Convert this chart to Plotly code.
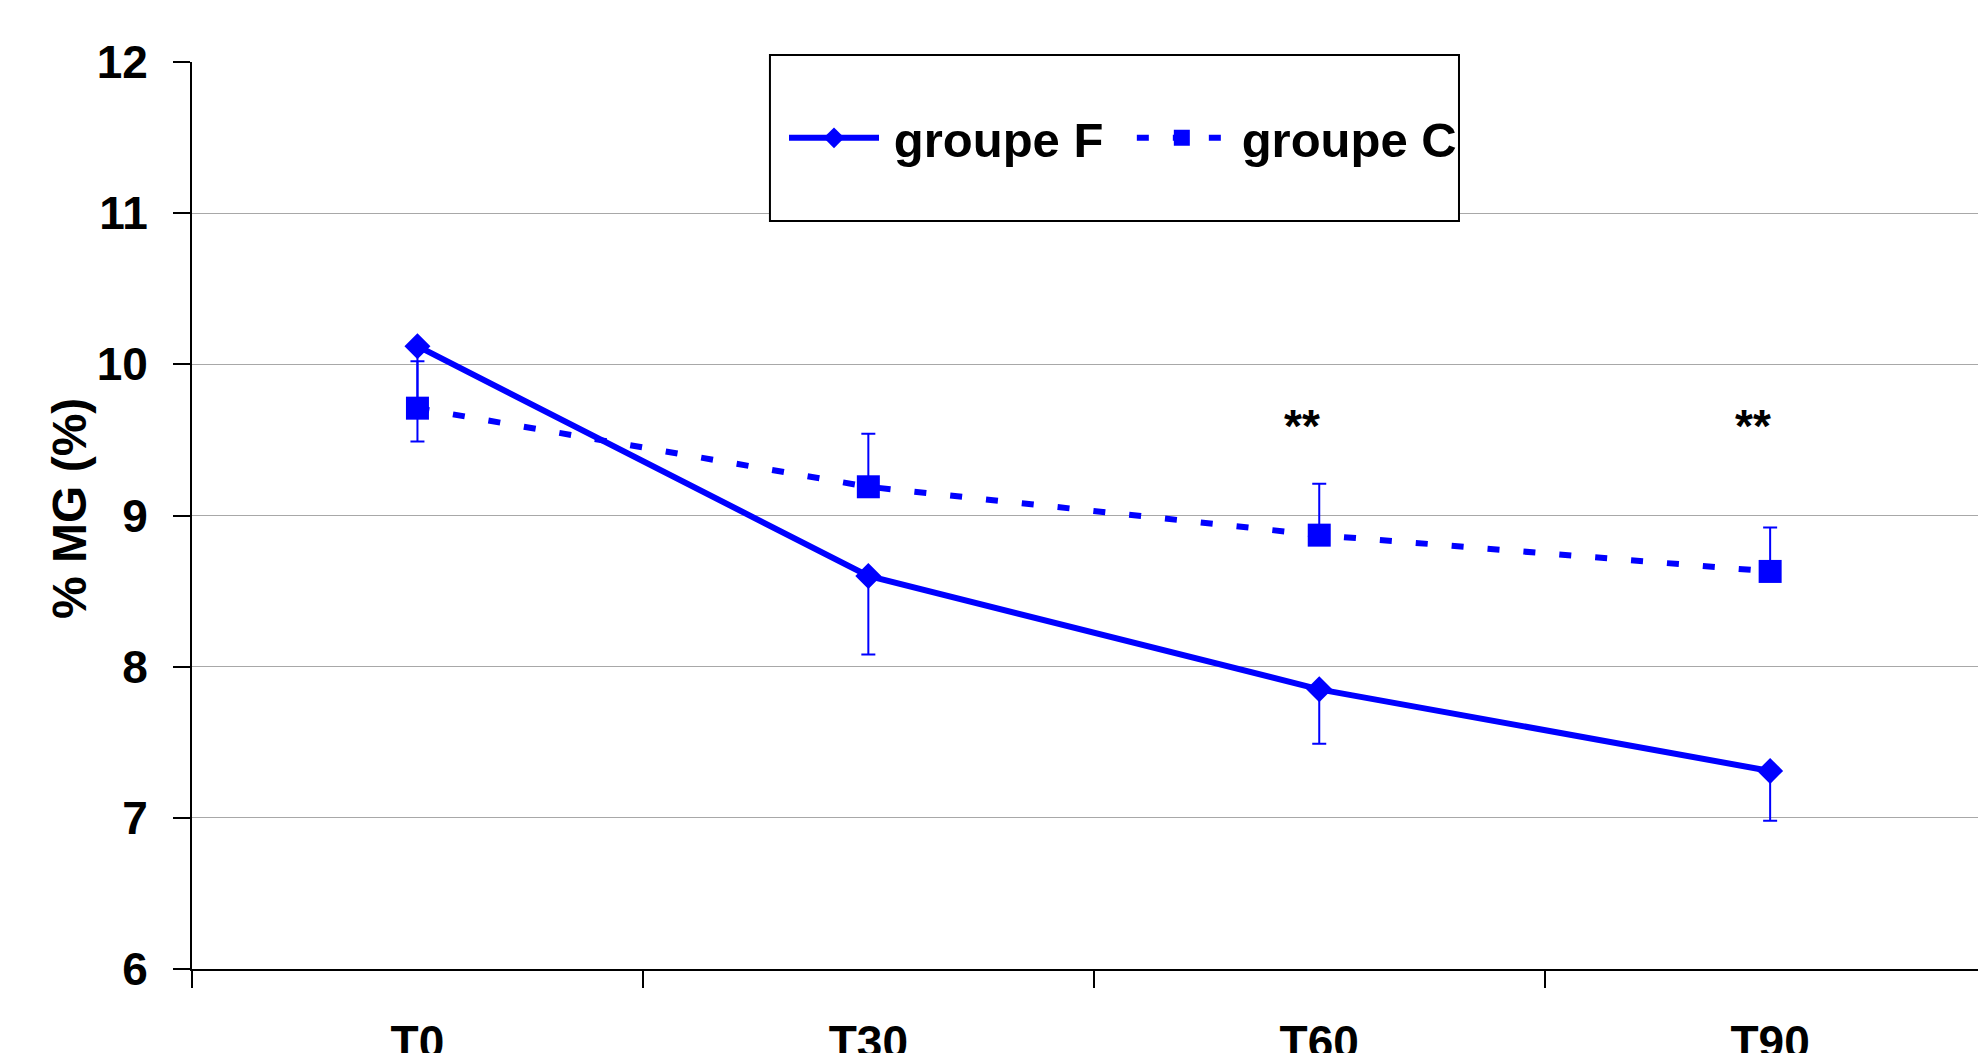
import plotly.graph_objects as go

# Time points and group means (% MG) with one-sided error bars
timepoints = ["T0", "T30", "T60", "T90"]
groupe_f = [10.12, 8.60, 7.85, 7.31]
groupe_f_err_minus = [0.63, 0.52, 0.36, 0.33]
groupe_c = [9.71, 9.19, 8.87, 8.63]
groupe_c_err_plus = [0.31, 0.35, 0.34, 0.29]
significance = ["", "", "**", "**"]

BLUE = "#0000FF"
FONT = "Liberation Sans, Arial, sans-serif"
THIN = "\u2009"
NBSP = "\u00a0"

fig = go.Figure()

fig.add_trace(go.Scatter(
    x=timepoints, y=groupe_f, name=THIN + "groupe F" + NBSP + THIN,
    mode="lines+markers",
    line=dict(color=BLUE, width=6),
    marker=dict(symbol="diamond", size=20, color=BLUE),
    error_y=dict(type="data", symmetric=False,
                 array=[0] * len(groupe_f), arrayminus=groupe_f_err_minus,
                 color=BLUE, thickness=2, width=7),
))

fig.add_trace(go.Scatter(
    x=timepoints, y=groupe_c, name=THIN + "groupe C",
    mode="lines+markers",
    line=dict(color=BLUE, width=6, dash="12px,24px"),
    marker=dict(symbol="square", size=23, color=BLUE),
    error_y=dict(type="data", symmetric=False,
                 array=groupe_c_err_plus, arrayminus=[0] * len(groupe_c),
                 color=BLUE, thickness=2, width=7),
))

# Significance stars above the control group
for t, s in zip(timepoints, significance):
    if s:
        fig.add_annotation(
            x=t, y=9.59, text=s, showarrow=False, xshift=-17,
            font=dict(family=FONT, size=46, color="black", weight="bold"),
        )

# Y axis title
fig.add_annotation(
    text="% MG (%)", textangle=-90, showarrow=False,
    xref="paper", yref="paper", x=-0.069, y=0.508,
    xanchor="center", yanchor="middle",
    font=dict(family=FONT, size=48, color="black", weight="bold"),
)

# Framed box behind the legend entries
fig.add_shape(
    type="rect", xref="paper", yref="paper",
    x0=0.3236, x1=0.7094, y0=0.8247, y1=1.0077,
    line=dict(color="black", width=2), fillcolor="white", layer="above",
)

fig.update_layout(
    width=1978, height=1053,
    margin=dict(l=192, r=0, t=62, b=84, autoexpand=False),
    paper_bgcolor="white", plot_bgcolor="white",
    font=dict(family=FONT, size=46, color="black"),
    showlegend=True,
    legend=dict(
        orientation="h",
        xref="container", yref="container",
        x=784 / 1978, y=1 - 138 / 1053,
        xanchor="left", yanchor="middle",
        borderwidth=0, bgcolor="rgba(0,0,0,0)",
        itemwidth=90,
        font=dict(family=FONT, size=49, color="black", weight="bold"),
    ),
    xaxis=dict(
        type="category",
        range=[-0.5, 3.461],
        showgrid=False,
        showline=True, linecolor="black", linewidth=2,
        ticks="outside", ticklen=17, tickwidth=1.5, tickcolor="black",
        tickson="boundaries",
        tickfont=dict(family=FONT, size=46, color="black", weight="bold"),
        ticklabelstandoff=32,
        zeroline=False,
    ),
    yaxis=dict(
        range=[6, 12],
        dtick=1,
        showgrid=True, gridcolor="#a8a8a8", gridwidth=1,
        showline=True, linecolor="black", linewidth=2,
        ticks="outside", ticklen=17, tickwidth=1.5, tickcolor="black",
        tickfont=dict(family=FONT, size=46, color="black", weight="bold"),
        ticklabelstandoff=16,
        zeroline=False,
    ),
)

fig.write_html("out.html")
